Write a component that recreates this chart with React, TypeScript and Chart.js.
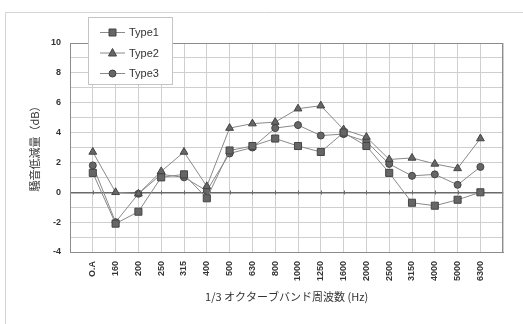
import { useEffect, useRef } from 'react';
import { Chart, registerables } from 'chart.js';

Chart.register(...registerables);

// 1/3 octave band centre frequencies (blank slots pad both ends of the axis)
const bands = ['', 'O.A', '160', '200', '250', '315', '400', '500', '630', '800', '1000', '1250', '1600', '2000', '2500', '3150', '4000', '5000', '6300', ''];

// Noise reduction (dB) per band
const type1 = [null, 1.3, -2.1, -1.3, 1.0, 1.2, -0.4, 2.8, 3.1, 3.6, 3.1, 2.7, 4.0, 3.1, 1.3, -0.7, -0.9, -0.5, 0.0, null];
const type2 = [null, 2.7, 0.0, -0.1, 1.4, 2.7, 0.4, 4.3, 4.6, 4.7, 5.6, 5.8, 4.2, 3.7, 2.2, 2.3, 1.9, 1.6, 3.6, null];
const type3 = [null, 1.8, -2.0, -0.1, 1.2, 1.0, 0.1, 2.6, 3.0, 4.3, 4.5, 3.8, 3.9, 3.4, 1.9, 1.1, 1.2, 0.5, 1.7, null];

const seriesNames = ['Type1', 'Type2', 'Type3'];
const markers = ['rect', 'triangle', 'circle'];

const yTitle = '騒音低減量（dB）';
const xTitle = '1/3 オクターブバンド周波数 (Hz)';

const LINE = '#8a8a8a';
const MARK_FILL = '#666666';
const MARK_EDGE = '#444444';
const TEXT = '#333333';
const JP_FONT = '"Noto Sans CJK JP", "Noto Sans", sans-serif';

function drawMarker(ctx: CanvasRenderingContext2D, kind: string, x: number, y: number) {
  ctx.save();
  ctx.fillStyle = MARK_FILL;
  ctx.strokeStyle = MARK_EDGE;
  ctx.lineWidth = 1;
  ctx.beginPath();
  if (kind === 'rect') {
    ctx.rect(x - 3.5, y - 3.5, 7, 7);
  } else if (kind === 'triangle') {
    ctx.moveTo(x, y - 4.5);
    ctx.lineTo(x + 4, y + 3);
    ctx.lineTo(x - 4, y + 3);
    ctx.closePath();
  } else {
    ctx.arc(x, y, 3.5, 0, Math.PI * 2);
  }
  ctx.fill();
  ctx.stroke();
  ctx.restore();
}

const decorations = {
  id: 'decorations',
  beforeDraw(chart: any) {
    const { ctx, width, height } = chart;
    ctx.save();
    ctx.fillStyle = '#ffffff';
    ctx.fillRect(0, 0, width, height);
    // outer frame (top and left edges)
    ctx.strokeStyle = '#d4d4d4';
    ctx.lineWidth = 1;
    ctx.beginPath();
    ctx.moveTo(5.5, height);
    ctx.lineTo(5.5, 12.5);
    ctx.lineTo(width, 12.5);
    ctx.stroke();
    ctx.restore();
  },
  beforeDatasetsDraw(chart: any) {
    const { ctx, chartArea } = chart;
    ctx.save();
    // plot-area frame
    ctx.strokeStyle = '#8c8c8c';
    ctx.lineWidth = 1;
    ctx.strokeRect(
      Math.round(chartArea.left) + 0.5,
      Math.round(chartArea.top) + 0.5,
      Math.round(chartArea.right - chartArea.left) - 1,
      Math.round(chartArea.bottom - chartArea.top),
    );
    ctx.restore();
  },
  afterDraw(chart: any) {
    const { ctx, chartArea } = chart;
    const xs = chart.scales.x;
    const ys = chart.scales.y;
    ctx.save();

    // short tick marks along the zero line
    const y0 = Math.round(ys.getPixelForValue(0)) + 0.5;
    ctx.strokeStyle = '#6a6a6a';
    ctx.lineWidth = 1;
    ctx.beginPath();
    for (let i = 1; i < bands.length - 1; i++) {
      const px = Math.round(xs.getPixelForValue(i)) + 0.5;
      ctx.moveTo(px, y0 - 2);
      ctx.lineTo(px, y0 + 2);
    }
    ctx.stroke();

    // axis titles
    ctx.fillStyle = TEXT;
    ctx.font = `11px ${JP_FONT}`;
    ctx.textAlign = 'center';
    ctx.textBaseline = 'middle';
    ctx.fillText(xTitle, (chartArea.left + chartArea.right) / 2, 297);
    ctx.translate(35, 146);
    ctx.rotate(-Math.PI / 2);
    ctx.fillText(yTitle, 0, 0);
    ctx.setTransform(1, 0, 0, 1, 0, 0);

    // legend box
    const lx = 88.5, ly = 17.5, lw = 84, lh = 67;
    ctx.fillStyle = '#ffffff';
    ctx.fillRect(lx, ly, lw, lh);
    ctx.strokeStyle = '#c4c4c4';
    ctx.strokeRect(lx, ly, lw, lh);
    ctx.font = '11px "Liberation Sans", Arial, sans-serif';
    ctx.textAlign = 'left';
    seriesNames.forEach((name, i) => {
      const cy = 32 + i * 20.5;
      ctx.strokeStyle = LINE;
      ctx.lineWidth = 1;
      ctx.beginPath();
      ctx.moveTo(100, cy + 0.5);
      ctx.lineTo(125, cy + 0.5);
      ctx.stroke();
      drawMarker(ctx, markers[i], 112.5, cy + 0.5);
      ctx.fillStyle = TEXT;
      ctx.fillText(name, 129, cy + 1);
    });
    ctx.restore();
  },
};

function makeDataset(label: string, data: (number | null)[], style: string, radius: number) {
  return {
    label,
    data,
    borderColor: LINE,
    borderWidth: 1,
    backgroundColor: MARK_FILL,
    pointBackgroundColor: MARK_FILL,
    pointBorderColor: MARK_EDGE,
    pointBorderWidth: 1,
    pointStyle: style,
    pointRadius: radius,
    tension: 0,
    spanGaps: false,
  };
}

export default function App() {
  const canvasRef = useRef<HTMLCanvasElement | null>(null);

  useEffect(() => {
    const canvas = canvasRef.current;
    if (!canvas) return;
    const chart = new Chart(canvas, {
      type: 'line',
      data: {
        labels: bands,
        datasets: [
          makeDataset('Type1', type1, 'rect', 5),
          makeDataset('Type2', type2, 'triangle', 4.5),
          makeDataset('Type3', type3, 'circle', 3.5),
        ],
      },
      options: {
        responsive: false,
        animation: false,
        devicePixelRatio: 1,
        layout: { padding: { left: 0, top: 43, right: 16, bottom: 0 } },
        plugins: {
          legend: { display: false },
          tooltip: { enabled: false },
        },
        scales: {
          x: {
            type: 'category',
            offset: false,
            grid: {
              color: '#cfcfcf',
              lineWidth: 1,
              drawTicks: false,
            },
            border: { color: '#8c8c8c', width: 1 },
            ticks: {
              autoSkip: false,
              minRotation: 90,
              maxRotation: 90,
              padding: 9,
              color: TEXT,
              font: { family: '"Liberation Sans", Arial, sans-serif', size: 9, weight: 'bold' },
            },
            afterFit(scale: any) {
              scale.height = 72;
            },
          },
          y: {
            min: -4,
            max: 10,
            grid: {
              color: (c: any) => (c.tick && c.tick.value === 0 ? '#6a6a6a' : '#cfcfcf'),
              lineWidth: (c: any) => (c.tick && c.tick.value === 0 ? 1.5 : 1),
              drawTicks: false,
            },
            border: { color: '#8c8c8c', width: 1 },
            ticks: {
              stepSize: 1,
              padding: 9,
              color: TEXT,
              font: { family: '"Liberation Sans", Arial, sans-serif', size: 9, weight: 'bold' },
              callback: (v: any) => (Number(v) % 2 === 0 ? String(v) : ''),
            },
            afterFit(scale: any) {
              scale.width = 70;
            },
          },
        },
      },
      plugins: [decorations],
    });
    return () => chart.destroy();
  }, []);

  return (
    <div style={{ position: 'absolute', left: 0, top: 0, width: 523, height: 324, background: '#fff' }}>
      <canvas ref={canvasRef} width={523} height={324} style={{ display: 'block' }} />
    </div>
  );
}
